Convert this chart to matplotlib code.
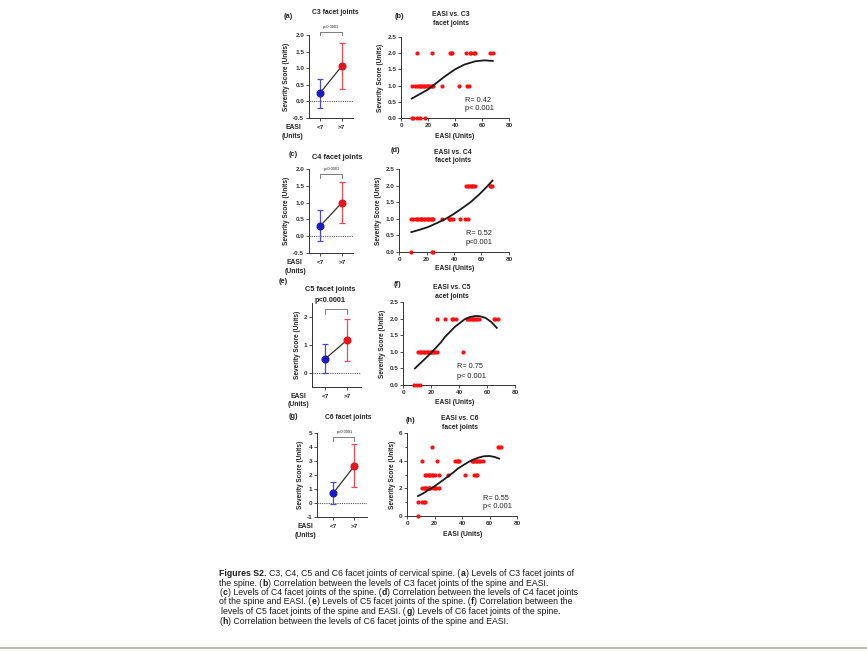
import matplotlib

matplotlib.use("Agg")
import matplotlib.pyplot as plt

plt.rcParams["font.family"] = ["Liberation Sans", "DejaVu Sans"]

W, H = 867, 652

# ---- column panels (mean with error bars) ----
groups = ["<7", ">7"]
c3_mean, c3_lo, c3_hi = [0.25, 1.07], [-0.20, 0.37], [0.67, 1.77]
c4_mean, c4_lo, c4_hi = [0.30, 1.00], [-0.15, 0.40], [0.78, 1.60]
c5_mean, c5_lo, c5_hi = [0.50, 1.17], [0.00, 0.43], [1.02, 1.92]
c6_mean, c6_lo, c6_hi = [0.72, 2.65], [-0.05, 1.12], [1.50, 4.20]

# ---- scatter panels: EASI values at each severity score ----
c3_s0 = [8, 9, 12, 14, 18]
c3_s1 = [8, 10, 12, 13, 14, 15, 16, 17, 18, 19, 20, 21, 22, 23, 24, 30, 43, 49, 50]
c3_s2 = [12, 23, 36, 37, 38, 48, 51, 52, 54, 55, 66, 68]
c3_fit_x = [8, 14, 20, 25, 32, 40, 47, 55, 62, 68]
c3_fit_y = [0.60, 0.74, 0.88, 1.04, 1.27, 1.50, 1.65, 1.75, 1.78, 1.76]

c4_s0 = [9, 24, 25]
c4_s1 = [9, 10, 12, 13, 14, 15, 16, 17, 18, 19, 20, 21, 22, 23, 24, 25,
         31, 36, 37, 38, 39, 44, 48, 50]
c4_s2 = [49, 50, 51, 52, 53, 54, 55, 66, 67, 68]
c4_fit_x = [9, 15, 21, 28, 34, 40, 46, 52, 58, 64, 68]
c4_fit_y = [0.60, 0.67, 0.75, 0.88, 1.00, 1.15, 1.32, 1.50, 1.72, 1.97, 2.15]

c5_s0 = [8, 10, 12]
c5_s1 = [11, 12, 13, 14, 15, 16, 17, 18, 19, 20, 21, 22, 23, 24, 43]
c5_s2 = [24, 30, 35, 36, 38, 46, 47, 48, 49, 50, 51, 52, 53, 54, 65, 66, 68]
c5_fit_x = [8.5, 12, 16, 20, 23, 27, 30, 34, 37, 41, 44, 48, 52, 55, 59, 63, 67]
c5_fit_y = [0.50, 0.64, 0.80, 0.97, 1.10, 1.28, 1.45, 1.62, 1.75, 1.88, 1.98, 2.05, 2.08, 2.07, 2.02, 1.90, 1.72]

c6_s0 = [8]
c6_s1 = [8, 11, 12, 13]
c6_s2 = [11, 12, 13, 14, 15, 16, 17, 19, 20, 21, 23]
c6_s3 = [13, 14, 15, 16, 17, 18, 19, 20, 23, 30, 42, 49, 50, 51]
c6_s4 = [11, 22, 35, 36, 37, 38, 47, 48, 49, 50, 51, 52, 53, 55]
c6_s5 = [18, 66, 67, 68]
c6_fit_x = [8, 12, 16, 20, 23, 27, 30, 34, 37, 41, 45, 48, 52, 56, 60, 64, 67]
c6_fit_y = [1.44, 1.65, 1.90, 2.15, 2.36, 2.65, 2.88, 3.17, 3.43, 3.68, 3.92, 4.07, 4.22, 4.32, 4.34, 4.26, 4.15]

# caption lines as (text, bold) pieces
caption = [
    [("Figures S2.", True), (" C3, C4, C5 and C6 facet joints of cervical spine. (", False),
     ("a", True), (") Levels of C3 facet joints of", False)],
    [("the spine. (", False), ("b", True),
     (") Correlation between the levels of C3 facet joints of the spine and EASI.", False)],
    [("(", False), ("c", True), (") Levels of C4 facet joints of the spine. (", False), ("d", True),
     (") Correlation between the levels of C4 facet joints", False)],
    [("of the spine and EASI. (", False), ("e", True), (") Levels of C5 facet joints of the spine. (", False),
     ("f", True), (") Correlation between the", False)],
    [(" levels of C5 facet joints of the spine and EASI. (", False), ("g", True),
     (") Levels of C6 facet joints of the spine.", False)],
    [("(", False), ("h", True), (") Correlation between the levels of C6 facet joints of the spine and EASI.", False)],
]

RED = "#e8141c"
RED_LIGHT = "#f04a52"
BLUE = "#1c1cc0"
BLUE_LIGHT = "#4848d0"
TXT = "#222222"


def add_px_axes(fig, left, top, right, bottom):
    return fig.add_axes([left / W, 1 - bottom / H, (right - left) / W, (bottom - top) / H])


def ftext(fig, x, y, s, **kw):
    kw.setdefault("fontsize", 4.9)
    kw.setdefault("fontweight", "bold")
    kw.setdefault("color", TXT)
    kw.setdefault("va", "center")
    kw.setdefault("ha", "center")
    return fig.text(x / W, 1 - y / H, s, **kw)


def style_axes(ax):
    for side in ("top", "right"):
        ax.spines[side].set_visible(False)
    for side in ("left", "bottom"):
        ax.spines[side].set_linewidth(0.7)
        ax.spines[side].set_color("#333333")
    ax.tick_params(length=2, width=0.6, pad=1.5, labelsize=4.6, colors="#333333")
    for lab in ax.get_xticklabels() + ax.get_yticklabels():
        lab.set_fontweight("bold")


def column_panel(ax, mean, lo, hi, xlim, ylim, yticks, yfmt, br_y, br_leg):
    ax.axhline(0, color="#555555", lw=0.8, ls=(0, (1, 1)))
    ax.plot([0, 1], mean, color="#333333", lw=0.9, zorder=2)
    for i, (m, l, h, c, cl) in enumerate(zip(mean, lo, hi, [BLUE, RED], [BLUE_LIGHT, RED_LIGHT])):
        ax.errorbar([i], [m], yerr=[[m - l], [h - m]], fmt="none", ecolor=cl,
                    elinewidth=0.9, capsize=2.3, capthick=0.9, zorder=3)
        ax.plot([i], [m], "o", color=c, ms=4.8, zorder=4)
    ax.plot([0, 0, 1, 1], [br_leg, br_y, br_y, br_leg], color="#666666", lw=0.6, clip_on=False)
    ax.set_xlim(*xlim)
    ax.set_ylim(*ylim)
    ax.set_xticks([0, 1])
    ax.set_xticklabels([])
    ax.set_yticks(yticks)
    ax.set_yticklabels([yfmt.format(v) for v in yticks])
    ax.set_ylabel("Severity Score (Units)", fontsize=4.7, fontweight="bold", color=TXT, labelpad=2)
    style_axes(ax)


def scatter_panel(ax, levels, fit_x, fit_y, ylim, yticks, yfmt):
    for score, xs in levels:
        ax.plot(xs, [score] * len(xs), "o", color="#ff1010", ms=3.0, mew=0, zorder=3, clip_on=False)
    ax.plot(fit_x, fit_y, color="#1a1a1a", lw=1.3, zorder=4)
    ax.set_xlim(0, 80)
    ax.set_ylim(*ylim)
    ax.set_xticks([0, 20, 40, 60, 80])
    ax.set_yticks(yticks)
    ax.set_yticklabels([yfmt.format(v) for v in yticks])
    ax.set_ylabel("Severity Score (Units)", fontsize=4.7, fontweight="bold", color=TXT, labelpad=2)
    style_axes(ax)


def draw_caption(fig, lines, x0, y0, dy, size):
    r = fig.canvas.get_renderer()

    def width(s, weight):
        t = fig.text(0, 0, s, fontsize=size, fontweight=weight)
        w = t.get_window_extent(r).width
        t.remove()
        return w

    space = width("a a", "normal") - width("aa", "normal")
    for i, line in enumerate(lines):
        x = x0
        y = y0 + i * dy
        for seg, bold in line:
            weight = "bold" if bold else "normal"
            core = seg.strip(" ")
            x += (len(seg) - len(seg.lstrip(" "))) * space
            if core:
                ftext(fig, x, y, core, ha="left", fontweight=weight, fontsize=size, color="#1a1a1a")
                x += width(core, weight) + 0.4
            x += (len(seg) - len(seg.rstrip(" "))) * space


def main():
    fig = plt.figure(figsize=(W / 100, H / 100), dpi=100)

    # (a) C3 columns
    ax = add_px_axes(fig, 309, 35, 353, 118)
    column_panel(ax, c3_mean, c3_lo, c3_hi, (-0.5, 1.5), (-0.5, 2.0),
                 [-0.5, 0.0, 0.5, 1.0, 1.5, 2.0], "{:.1f}", 2.09, 2.0)
    ftext(fig, 288, 16, "(a)", fontsize=5.4)
    ftext(fig, 335, 13, "C3 facet joints")
    ftext(fig, 331, 27, "p<0.0001", fontsize=2.8, fontweight="normal")
    ftext(fig, 320, 127.5, "<7", fontsize=4.6)
    ftext(fig, 341, 127.5, ">7", fontsize=4.6)
    ftext(fig, 293, 127.5, "EASI")
    ftext(fig, 292, 136.5, "(Units)")

    # (b) C3 scatter
    ax = add_px_axes(fig, 401, 37, 509, 118)
    scatter_panel(ax, [(0, c3_s0), (1, c3_s1), (2, c3_s2)], c3_fit_x, c3_fit_y,
                  (0, 2.5), [0.0, 0.5, 1.0, 1.5, 2.0, 2.5], "{:.1f}")
    ftext(fig, 399, 17, "(b)", fontsize=5.4)
    ftext(fig, 451, 14.5, "EASI vs. C3")
    ftext(fig, 451, 23.5, "facet joints")
    ftext(fig, 455, 136.5, "EASI (Units)")
    ftext(fig, 465, 100, "R= 0.42", ha="left", fontweight="normal", fontsize=5.3)
    ftext(fig, 465, 108.5, "p< 0.001", ha="left", fontweight="normal", fontsize=5.3)

    # (c) C4 columns
    ax = add_px_axes(fig, 309, 169, 353, 253)
    column_panel(ax, c4_mean, c4_lo, c4_hi, (-0.5, 1.5), (-0.5, 2.0),
                 [-0.5, 0.0, 0.5, 1.0, 1.5, 2.0], "{:.1f}", 1.85, 1.73)
    ftext(fig, 293, 155, "(c)", fontsize=5.4)
    ftext(fig, 337, 158, "C4 facet joints", fontsize=5.3)
    ftext(fig, 332, 169, "p<0.0001", fontsize=2.8, fontweight="normal")
    ftext(fig, 320.5, 262.5, "<7", fontsize=4.6)
    ftext(fig, 342.5, 262.5, ">7", fontsize=4.6)
    ftext(fig, 294, 262.5, "EASI")
    ftext(fig, 295, 271.5, "(Units)")

    # (d) C4 scatter
    ax = add_px_axes(fig, 399, 169, 509, 252)
    scatter_panel(ax, [(0, c4_s0), (1, c4_s1), (2, c4_s2)], c4_fit_x, c4_fit_y,
                  (0, 2.5), [0.0, 0.5, 1.0, 1.5, 2.0, 2.5], "{:.1f}")
    ftext(fig, 395, 150, "(d)", fontsize=5.4)
    ftext(fig, 453, 152, "EASI vs. C4")
    ftext(fig, 453, 161, "facet joints")
    ftext(fig, 455, 269, "EASI (Units)")
    ftext(fig, 466, 233.5, "R= 0.52", ha="left", fontweight="normal", fontsize=5.3)
    ftext(fig, 466, 242, "p<0.001", ha="left", fontweight="normal", fontsize=5.3)

    # (e) C5 columns
    ax = add_px_axes(fig, 312, 303, 361, 387)
    column_panel(ax, c5_mean, c5_lo, c5_hi, (-0.6, 1.65), (-0.5, 2.5),
                 [0, 1, 2], "{:d}", 2.27, 2.12)
    ftext(fig, 283, 282, "(e)", fontsize=5.4)
    ftext(fig, 330, 289.5, "C5 facet joints", fontsize=5.3)
    ftext(fig, 330, 301, "p<0.0001", fontsize=5.3)
    ftext(fig, 325, 396.5, "<7", fontsize=4.6)
    ftext(fig, 347, 396.5, ">7", fontsize=4.6)
    ftext(fig, 298, 396.5, "EASI")
    ftext(fig, 298, 405, "(Units)")

    # (f) C5 scatter
    ax = add_px_axes(fig, 403, 302, 515, 385)
    scatter_panel(ax, [(0, c5_s0), (1, c5_s1), (2, c5_s2)], c5_fit_x, c5_fit_y,
                  (0, 2.5), [0.0, 0.5, 1.0, 1.5, 2.0, 2.5], "{:.1f}")
    ftext(fig, 398, 285, "(f)", fontsize=5.4)
    ftext(fig, 452, 287.5, "EASI vs. C5")
    ftext(fig, 452, 296.5, "acet joints")
    ftext(fig, 455, 402, "EASI (Units)")
    ftext(fig, 457, 367, "R= 0.75", ha="left", fontweight="normal", fontsize=5.3)
    ftext(fig, 457, 376, "p< 0.001", ha="left", fontweight="normal", fontsize=5.3)

    # (g) C6 columns
    ax = add_px_axes(fig, 317, 433, 367, 517)
    column_panel(ax, c6_mean, c6_lo, c6_hi, (-0.78, 1.6), (-1, 5),
                 [-1, 0, 1, 2, 3, 4, 5], "{:d}", 4.72, 4.43)
    ftext(fig, 293, 416, "(g)", fontsize=5.4)
    ftext(fig, 348, 417.5, "C6 facet joints")
    ftext(fig, 345, 432, "p<0.0001", fontsize=2.8, fontweight="normal")
    ftext(fig, 333, 526, "<7", fontsize=4.6)
    ftext(fig, 354, 526, ">7", fontsize=4.6)
    ftext(fig, 305, 526, "EASI")
    ftext(fig, 305, 535.5, "(Units)")

    # (h) C6 scatter
    ax = add_px_axes(fig, 407, 433, 517, 516)
    scatter_panel(ax, [(0, c6_s0), (1, c6_s1), (2, c6_s2), (3, c6_s3), (4, c6_s4), (5, c6_s5)],
                  c6_fit_x, c6_fit_y, (0, 6), [0, 2, 4, 6], "{:d}")
    ax.set_yticks([1, 3, 5], minor=True)
    ax.tick_params(which="minor", length=1.2, width=0.5)
    ftext(fig, 410, 420, "(h)", fontsize=5.4)
    ftext(fig, 460, 418.5, "EASI vs. C6")
    ftext(fig, 460, 427.5, "facet joints")
    ftext(fig, 463, 534.5, "EASI (Units)")
    ftext(fig, 483, 498.5, "R= 0.55", ha="left", fontweight="normal", fontsize=5.3)
    ftext(fig, 483, 507, "p< 0.001", ha="left", fontweight="normal", fontsize=5.3)

    # caption
    draw_caption(fig, caption, 219, 573.5, 9.5, 6.3)

    # bottom rule
    fig.add_artist(plt.Line2D([0, 1], [1 - 648 / H, 1 - 648 / H], color="#b3b09c", lw=1.2))

    fig.savefig("out.png", dpi=100)


if __name__ == "__main__":
    main()
